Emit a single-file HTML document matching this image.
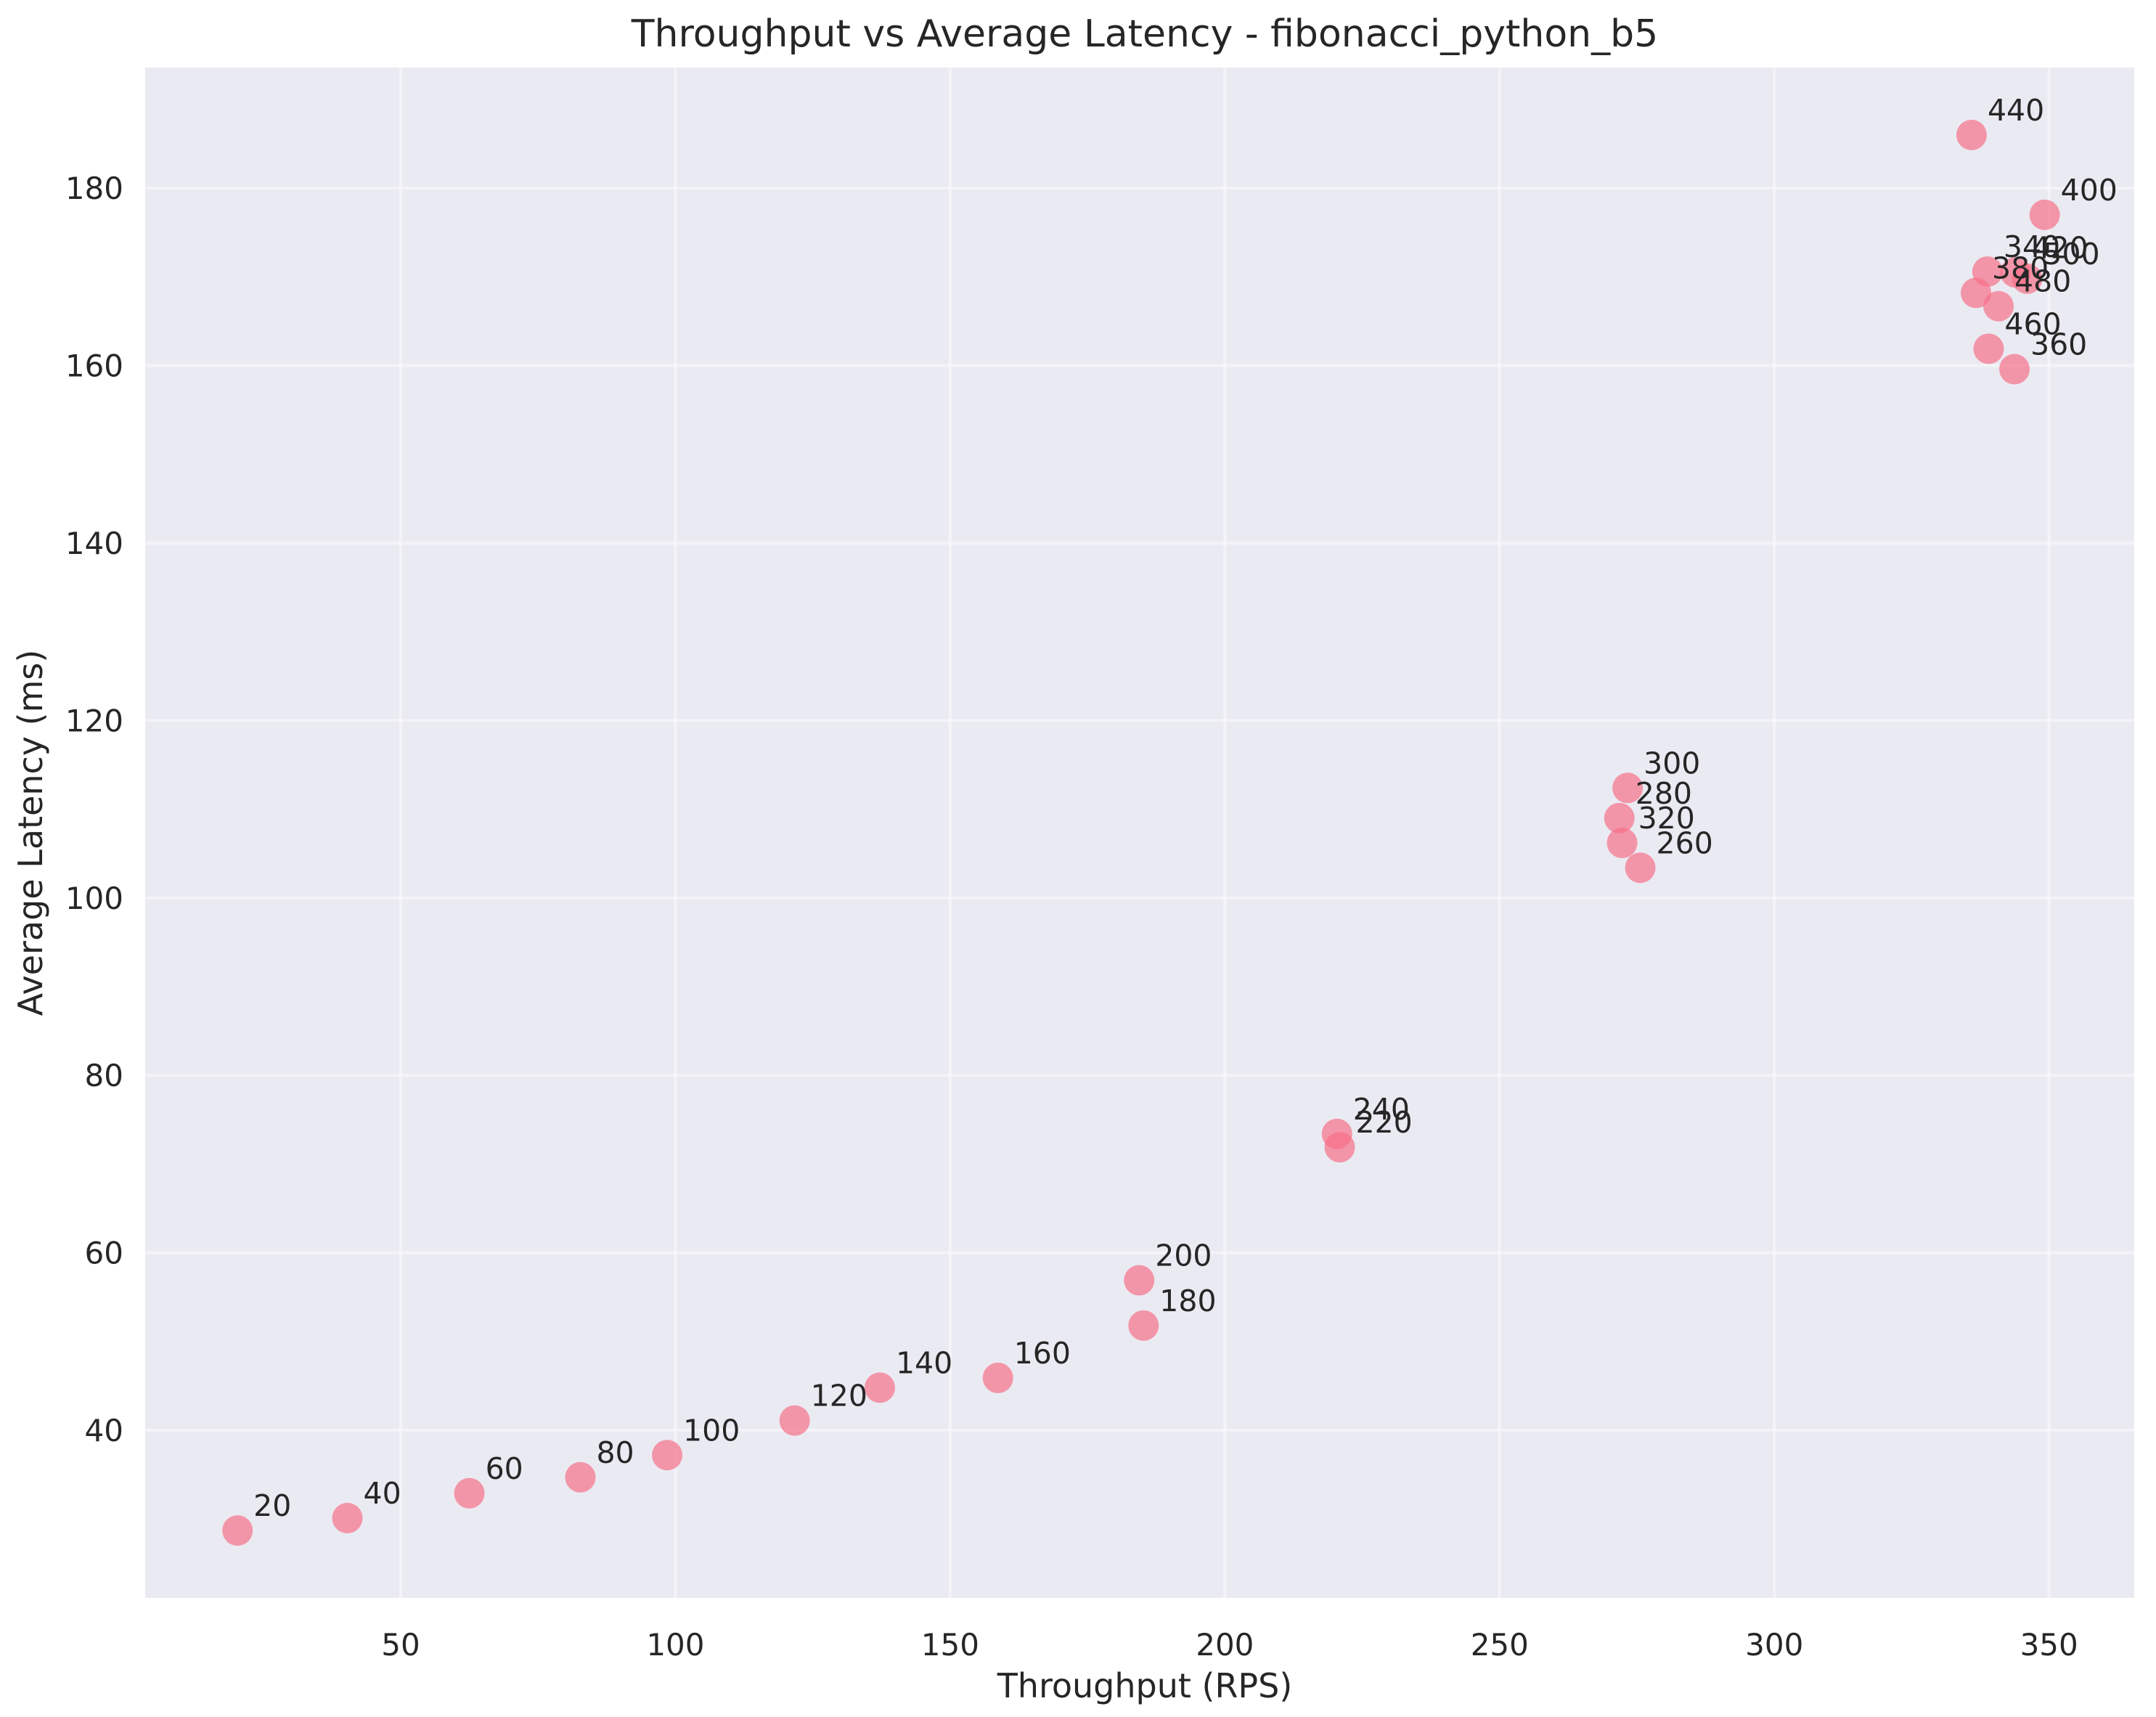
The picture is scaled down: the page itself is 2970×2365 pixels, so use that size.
<!DOCTYPE html>
<html><head><meta charset="utf-8"><style>
html,body{margin:0;padding:0;background:#fff;}
svg{display:block;font-family:"DejaVu Sans","Liberation Sans",sans-serif;}
</style></head><body>
<svg id="chart" width="2970" height="2365" viewBox="0 0 2970 2365" xmlns="http://www.w3.org/2000/svg">
<rect x="0" y="0" width="2970" height="2365" fill="#ffffff"/>
<rect id="plotbg" x="200" y="93" width="2740" height="2108" fill="#eaeaf2"/>
<g id="grid"></g>
<g id="ticks"></g>
<g id="points"></g>
<g id="labels"></g>
<text x="1577" y="64" font-size="52" fill="#262626" text-anchor="middle">Throughput vs Average Latency - fibonacci_python_b5</text>
<text x="1577" y="2338" font-size="46" fill="#262626" text-anchor="middle">Throughput (RPS)</text>
<text x="0" y="0" font-size="46" fill="#262626" text-anchor="middle" transform="translate(58,1147) rotate(-90)">Average Latency (ms)</text>
</svg>
<script>
const concurrency = [20,40,60,80,100,120,140,160,180,200,220,240,260,280,300,320,340,360,380,400,420,440,460,480,500];
const throughput = [20.3,40.3,62.5,82.7,98.5,121.7,137.2,158.7,185.2,184.4,220.9,220.4,275.6,271.8,273.3,272.3,338.8,343.7,336.7,349.2,343.9,335.9,339.0,340.8,346.0];
const latency = [28.7,30.1,32.9,34.7,37.2,41.1,44.8,45.9,51.8,56.9,71.9,73.4,103.4,109.0,112.4,106.2,170.6,159.6,168.2,177.0,170.5,186.0,161.9,166.7,169.8];
const xTicks = [50,100,150,200,250,300,350];
const yTicks = [40,60,80,100,120,140,160,180];

const L=200,R=2940,T=93,B=2201;
const X0=3.5,X1=365.5;
const Y0=21.1,Y1=193.6;
function sx(v){return L+(v-X0)/(X1-X0)*(R-L);}
function sy(v){return B-(v-Y0)/(Y1-Y0)*(B-T);}
const NS="http://www.w3.org/2000/svg";
function mk(tag,attrs,parent){const e=document.createElementNS(NS,tag);for(const k in attrs)e.setAttribute(k,attrs[k]);parent.appendChild(e);return e;}
const grid=document.getElementById('grid'),ticks=document.getElementById('ticks');
xTicks.forEach(t=>{
  const l=mk('line',{x1:sx(t),x2:sx(t),y1:T,y2:B,stroke:'#ffffff','stroke-width':4,'stroke-opacity':0.45},grid);
  
  
  const tx=mk('text',{x:sx(t),y:2280,'font-size':42,fill:'#262626','text-anchor':'middle'},ticks);
  tx.textContent=t;
  
  
});
yTicks.forEach(t=>{
  const l=mk('line',{x1:L,x2:R,y1:sy(t),y2:sy(t),stroke:'#ffffff','stroke-width':4,'stroke-opacity':0.45},grid);
  
  
  const tx=mk('text',{x:170,y:sy(t)+15,'font-size':42,fill:'#262626','text-anchor':'end'},ticks);
  tx.textContent=t;
  
  
});
const pts=document.getElementById('points'),lbs=document.getElementById('labels');
concurrency.forEach((c,i)=>{
  const cx=sx(throughput[i]),cy=sy(latency[i]);
  const p=mk('circle',{cx:cx,cy:cy,r:21,fill:'#f77189','fill-opacity':0.7},pts);
  
  
  const t=mk('text',{x:cx+22,y:cy-20,'font-size':41,fill:'#262626'},lbs);
  t.textContent=c;
  
  
});
</script>
</body></html>
